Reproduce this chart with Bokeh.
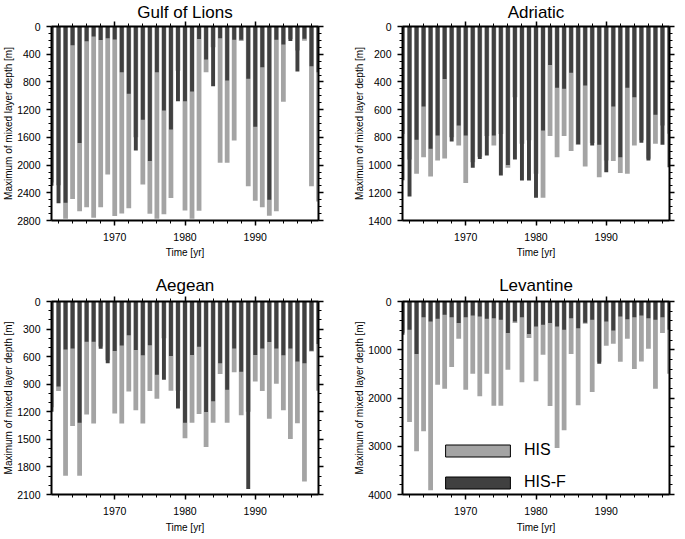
from bokeh.plotting import figure
from bokeh.models import (Range1d, FixedTicker, LinearAxis, Legend, LegendItem,
                          ColumnDataSource, CustomJSTickFormatter)
from bokeh.layouts import row, column
from bokeh.embed import file_html
from bokeh.resources import INLINE

years = list(range(1961, 2000))

gol_his = [2250, 2290, 2775, 2490, 2665, 2607, 2761, 2607, 2136, 2735,
           2700, 2622, 1600, 2280, 2703, 2775, 2710, 2477, 640, 2655,
           2776, 2660, 660, 300, 1968, 1968, 1645, 210, 2304, 2515,
           2607, 2732, 2665, 1085, 180, 346, 207, 2304, 2525]
gol_hisf = [2300, 2550, 2545, 270, 1680, 212, 144, 195, 168, 188,
            659, 972, 1790, 1345, 1943, 659, 1212, 1486, 1080, 1080,
            938, 180, 476, 861, 168, 779, 192, 190, 755, 1448,
            587, 2500, 190, 258, 210, 649, 178, 572, 659]

adr_his = [775, 960, 1063, 943, 1082, 967, 952, 800, 859, 1130,
           980, 940, 790, 859, 775, 1020, 510, 847, 820, 1063,
           1236, 791, 943, 791, 899, 854, 1010, 840, 1087, 967,
           971, 1058, 1063, 859, 820, 955, 847, 714, 774]
adr_hisf = [1110, 1227, 818, 577, 883, 786, 378, 830, 714, 786,
            1020, 957, 931, 786, 1075, 1000, 960, 1111, 1111, 1236,
            750, 277, 442, 450, 334, 850, 426, 859, 854, 1051,
            577, 943, 442, 510, 839, 967, 637, 854, 1015]

aeg_his = [1150, 975, 1895, 1356, 1895, 1230, 1327, 490, 640, 1219,
           1327, 978, 1183, 1327, 975, 1057, 400, 971, 971, 1489,
           1320, 1223, 1582, 1320, 788, 1320, 770, 1237, 1200, 870,
           975, 1275, 895, 1183, 1495, 1325, 1958, 545, 970]
aeg_hisf = [1200, 924, 521, 511, 1320, 439, 439, 514, 672, 539,
            478, 367, 529, 586, 475, 798, 852, 593, 1165, 1320,
            583, 493, 1201, 1086, 672, 960, 511, 765, 2039, 583,
            511, 442, 511, 586, 511, 654, 672, 537, 462]

lev_his = [650, 2497, 3103, 2690, 3910, 1724, 1807, 1359, 772, 1828,
           1497, 1966, 1497, 2159, 2159, 1414, 448, 1676, 759, 1655,
           1103, 2166, 3035, 2669, 1090, 2152, 462, 1876, 1250, 917,
           876, 1248, 772, 1400, 1241, 979, 1807, 655, 1497]
lev_hisf = [690, 586, 1090, 324, 414, 359, 276, 324, 448, 324,
            290, 310, 359, 345, 379, 655, 414, 324, 676, 517,
            483, 448, 517, 586, 345, 552, 440, 379, 1290, 414,
            600, 310, 366, 324, 290, 345, 379, 324, 586]

x_major = [1970, 1980, 1990]
x_minor = list(range(1962, 2000, 2))

FONT = "Liberation Sans"
LIGHT = "#a4a4a4"
DARK = "#404040"


def style_axis(ax, labels=True):
    ax.axis_line_width = 2
    ax.axis_line_color = "black"
    ax.major_tick_line_width = 1.5
    ax.major_tick_line_color = "black"
    ax.minor_tick_line_color = "black"
    ax.major_tick_out = 5
    ax.major_tick_in = 0
    ax.minor_tick_out = 3
    ax.minor_tick_in = 0
    ax.minor_tick_line_width = 1
    if labels:
        ax.major_label_text_font = FONT
        ax.major_label_text_font_size = "10.5px"
        ax.major_label_text_color = "black"
        ax.axis_label_text_font = FONT
        ax.axis_label_text_font_size = "10px"
        ax.axis_label_text_font_style = "normal"
        ax.axis_label_text_color = "black"
    else:
        ax.formatter = CustomJSTickFormatter(code="return ''")
        ax.major_label_standoff = 0


def panel(title, his, hisf, ymax, ymajor, yminor, width, height,
          b_left, b_right, b_top, b_bottom, title_standoff, bottom_row, legend=False):
    p = figure(width=width, height=height,
               x_range=Range1d(1961, 1999), y_range=Range1d(ymax, 0),
               output_backend="svg", toolbar_location=None,
               min_border_left=b_left, min_border_right=b_right,
               min_border_top=b_top, min_border_bottom=b_bottom)
    p.grid.visible = False
    p.outline_line_color = None
    p.background_fill_color = "white"

    p.title.text = title
    p.title.align = "center"
    p.title.text_font = FONT
    p.title.text_font_size = "17px"
    p.title.text_font_style = "normal"
    p.title.text_color = "black"
    p.title.standoff = title_standoff
    p.title.offset = 0

    src = ColumnDataSource(dict(year=years, his=his, hisf=hisf))
    p.vbar(x="year", top=0, bottom="his", width=0.68, source=src,
           fill_color=LIGHT, line_color=None)
    p.vbar(x="year", top=0, bottom="hisf", width=0.56, source=src,
           fill_color=DARK, line_color=None)

    xt = FixedTicker(ticks=x_major, minor_ticks=x_minor)
    yt = FixedTicker(ticks=list(range(0, ymax + 1, ymajor)),
                     minor_ticks=list(range(0, ymax + 1, yminor)))

    xb = p.xaxis[0]
    xb.ticker = xt
    xb.axis_label = "Time [yr]"
    style_axis(xb)
    if bottom_row:
        xb.major_label_standoff = 7
        xb.axis_label_standoff = 4
    else:
        xb.major_label_standoff = 7
        xb.axis_label_standoff = 3

    yl = p.yaxis[0]
    yl.ticker = yt
    yl.axis_label = "Maximum of mixed layer depth [m]"
    style_axis(yl)
    yl.major_label_standoff = 6
    yl.axis_label_standoff = 0

    xa = LinearAxis(ticker=xt)
    style_axis(xa, labels=False)
    p.add_layout(xa, "above")
    yr = LinearAxis(ticker=yt)
    style_axis(yr, labels=False)
    p.add_layout(yr, "right")

    if legend:
        # legend swatches: zero-height bars hidden under the top axis line
        leg_src = ColumnDataSource(dict(year=years, zero=[0] * len(years)))
        r1 = p.vbar(x="year", top="zero", bottom="zero", width=0.5, source=leg_src,
                    fill_color=LIGHT, line_color="black", line_width=1)
        r2 = p.vbar(x="year", top="zero", bottom="zero", width=0.5, source=leg_src,
                    fill_color=DARK, line_color="black", line_width=1)
        leg = Legend(items=[LegendItem(label="HIS", renderers=[r1]),
                            LegendItem(label="HIS-F", renderers=[r2])],
                     location=(35, 3), glyph_width=81, glyph_height=15,
                     label_height=15, label_standoff=6, spacing=14,
                     padding=0, margin=0, border_line_color=None,
                     background_fill_alpha=0, label_text_font=FONT,
                     label_text_font_size="16px", label_text_color="black")
        p.add_layout(leg, "center")
    return p


p1 = panel("Gulf of Lions", gol_his, gol_hisf, 2800, 400, 100, 351, 264,
           46, 33, 26, 44, 0, False)
p2 = panel("Adriatic", adr_his, adr_hisf, 1400, 200, 50, 326, 264,
           46, 8, 26, 44, 0, False)
p3 = panel("Aegean", aeg_his, aeg_hisf, 2100, 300, 100, 351, 271,
           46, 33, 37, 40, 4, True)
p4 = panel("Levantine", lev_his, lev_hisf, 4000, 1000, 200, 326, 271,
           46, 8, 37, 40, 4, True, legend=True)

layout = column(row(p1, p2), row(p3, p4))
open("out.html", "w").write(file_html(layout, INLINE))
